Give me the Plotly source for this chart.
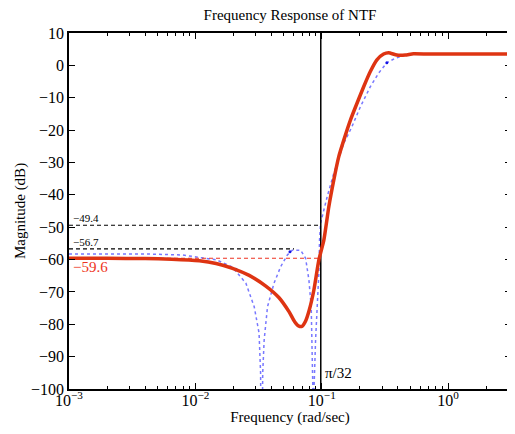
import numpy as np
import plotly.graph_objects as go

# Red NTF magnitude (rad/sec, dB)
red_w = [0.001, 0.002, 0.004, 0.0065, 0.01076, 0.01457, 0.01968, 0.02665, 0.03607, 0.04592,
         0.05503, 0.0610, 0.0660, 0.0700, 0.0745, 0.0791, 0.08661, 0.09484, 0.10384, 0.1137,
         0.1245, 0.1363, 0.1493, 0.1685, 0.1900, 0.2145, 0.2422, 0.2730, 0.3083, 0.3375,
         0.3924, 0.4570, 0.5313, 0.7, 1.0, np.pi]
red_db = [-59.6, -59.6, -59.7, -59.9, -60.4, -61.2, -62.7, -64.9, -68.2, -71.8,
          -76.1, -79.2, -80.6, -80.6, -79.0, -76.0, -69.4, -60.1, -54.0, -43.7,
          -35.4, -28.2, -23.1, -16.9, -11.7, -6.6, -1.9, 1.7, 3.5, 3.9,
          3.2, 3.2, 3.6, 3.5, 3.5, 3.5]

# Blue dotted comparison response
blue_w = [0.001, 0.00435, 0.00791, 0.01465, 0.01957, 0.0251, 0.0292, 0.0319, 0.0328, 0.0334,
          0.0341, 0.0350, 0.0372, 0.0419, 0.0473, 0.0534, 0.0584, 0.0681, 0.0745, 0.0791,
          0.0825, 0.0839, 0.0850, 0.0858, 0.0868, 0.0893, 0.0919, 0.0948, 0.0960, 0.0978,
          0.1103, 0.1245, 0.1493, 0.1735, 0.2020, 0.2422, 0.2816, 0.3272, 0.3812, 0.4570,
          0.5313, 1.0, np.pi]
blue_db = [-58.3, -58.3, -58.6, -60.1, -62.3, -67.3, -74.6, -82.7, -95.0, -140.0,
           -95.0, -84.9, -74.6, -67.3, -62.2, -58.6, -57.1, -57.1, -59.6, -66.3,
           -74.6, -84.9, -100.0, -140.0, -100.0, -84.9, -74.6, -64.2, -53.9, -48.8,
           -40.6, -33.3, -24.1, -18.9, -12.8, -6.6, -2.4, 0.8, 2.2, 3.2,
           3.5, 3.5, 3.5]

# highlighted points on blue curve
mark_w = [0.02094, 0.0560, 0.3272]
mark_db = [-63.0, -57.6, 0.8]

# reference levels
level_vals = [-49.4, -56.7, -59.6]
level_ends = [np.pi / 32, 0.0603, np.pi / 32]
level_colors = ["black", "black", "#ee3322"]
cutoff = np.pi / 32

x_tickvals = [0.001, 0.01, 0.1, 1]
x_ticktext = ["10<sup>\u22123</sup>", "10<sup>\u22122</sup>", "10<sup>\u22121</sup>", "10<sup>0</sup>"]
x_minorvals = [m * 10.0 ** e for e in (-3, -2, -1, 0) for m in range(2, 10) if m * 10.0 ** e <= np.pi]
y_tickvals = list(range(-100, 11, 10))

FONT = "Liberation Serif, Times New Roman, serif"
XRANGE = [-3, float(np.log10(np.pi))]

fig = go.Figure()

fig.add_trace(go.Scatter(x=blue_w, y=blue_db, mode="lines",
                         line=dict(color="rgb(120,120,255)", width=1.5, dash="dot"),
                         showlegend=False))
fig.add_trace(go.Scatter(x=mark_w, y=mark_db, mode="markers",
                         marker=dict(color="rgb(20,20,230)", size=3),
                         showlegend=False))

for v, e, c in zip(level_vals, level_ends, level_colors):
    fig.add_trace(go.Scatter(x=[0.001, e], y=[v, v], mode="lines",
                             line=dict(color=c, width=1.2, dash="4px,3px"),
                             showlegend=False))

fig.add_trace(go.Scatter(x=[cutoff, cutoff], y=[-100, 10], mode="lines",
                         line=dict(color="black", width=1.5), showlegend=False))

fig.add_trace(go.Scatter(x=red_w, y=red_db, mode="lines",
                         line=dict(color="rgb(222,52,18)", width=3.5, shape="spline", smoothing=0.5),
                         showlegend=False))

fig.add_annotation(x=np.log10(0.00104), y=-49.4, xref="x", yref="y", text="\u221249.4",
                   showarrow=False, xanchor="left", yanchor="bottom",
                   font=dict(family=FONT, size=11, color="black"), yshift=-1)
fig.add_annotation(x=np.log10(0.00104), y=-56.7, xref="x", yref="y", text="\u221256.7",
                   showarrow=False, xanchor="left", yanchor="bottom",
                   font=dict(family=FONT, size=11, color="black"), yshift=-1)
fig.add_annotation(x=np.log10(0.00104), y=-59.6, xref="x", yref="y", text="\u221259.6",
                   showarrow=False, xanchor="left", yanchor="top",
                   font=dict(family=FONT, size=15, color="#ee3322"), yshift=1)
fig.add_annotation(x=np.log10(cutoff), y=-95, xref="x", yref="y", text="\u03c0/32",
                   showarrow=False, xanchor="left", yanchor="middle",
                   font=dict(family=FONT, size=15, color="black"), xshift=2)

fig.update_layout(
    width=507, height=426,
    margin=dict(l=61, r=2, t=25, b=45),
    paper_bgcolor="white", plot_bgcolor="white",
    font=dict(family=FONT, size=15, color="black"),
    title=dict(text="Frequency Response of NTF", xref="paper", x=0.5, xanchor="center",
               yref="container", y=0.984, yanchor="middle", font=dict(family=FONT, size=15)),
    xaxis=dict(type="log", range=XRANGE, tickmode="array", tickvals=x_tickvals, ticktext=x_ticktext,
               showgrid=False, zeroline=False,
               showline=True, linecolor="black", linewidth=1.5, mirror="ticks",
               ticks="inside", ticklen=6, tickcolor="black",
               minor=dict(tickmode="array", tickvals=x_minorvals, ticks="inside", ticklen=3,
                          tickcolor="black", showgrid=False),
               tickfont=dict(family=FONT, size=16), ticklabelstandoff=-4,
               title=dict(text="Frequency (rad/sec)", standoff=2, font=dict(family=FONT, size=15))),
    yaxis=dict(range=[-100, 10], tickvals=y_tickvals, showgrid=False, zeroline=False,
               showline=True, linecolor="black", linewidth=1.5, mirror="ticks",
               ticks="inside", ticklen=6, tickcolor="black",
               tickfont=dict(family=FONT, size=16),
               title=dict(text="Magnitude (dB)", standoff=2, font=dict(family=FONT, size=15))),
)

fig.write_html("out.html")
